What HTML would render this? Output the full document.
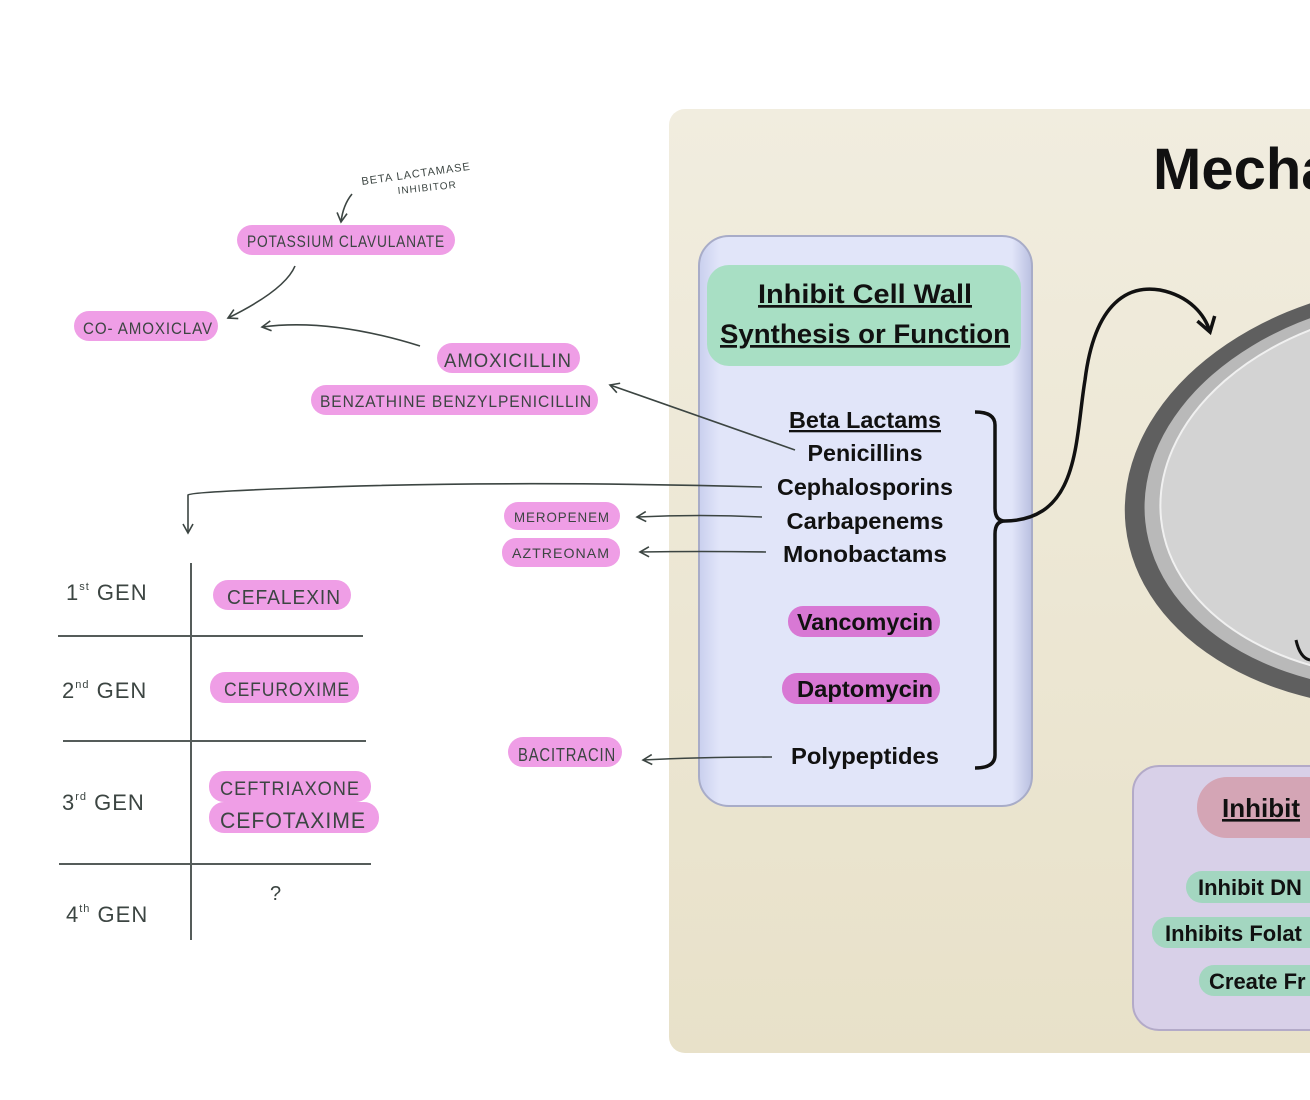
<!DOCTYPE html>
<html><head><meta charset="utf-8"><style>
html,body{margin:0;padding:0;background:#fff;width:1310px;height:1100px;overflow:hidden}
svg{display:block}
.h{font-family:"Liberation Sans",sans-serif;fill:#3c4542;font-size:17px;letter-spacing:1px}
.c{font-family:"Liberation Sans",sans-serif;font-weight:bold;fill:#111;text-anchor:middle}
</style></head><body>
<svg width="1310" height="1100" viewBox="0 0 1310 1100" xmlns="http://www.w3.org/2000/svg">
<defs>
<linearGradient id="bg" x1="0" y1="0" x2="0" y2="1"><stop offset="0" stop-color="#f1eddf"/><stop offset="1" stop-color="#e8e1c9"/></linearGradient>
<linearGradient id="blue" x1="0" y1="0" x2="1" y2="0"><stop offset="0" stop-color="#c9cfee"/><stop offset="0.06" stop-color="#e1e5f9"/><stop offset="0.94" stop-color="#e1e5f9"/><stop offset="1" stop-color="#b9bfe0"/></linearGradient>
<marker id="ah" markerWidth="12" markerHeight="12" refX="10" refY="6" orient="auto" markerUnits="userSpaceOnUse"><path d="M1,1 L10,6 L1,11" fill="none" stroke="#3c4542" stroke-width="1.6"/></marker>
<marker id="bh" markerWidth="22" markerHeight="22" refX="18" refY="11" orient="auto" markerUnits="userSpaceOnUse"><path d="M4,2 L18,11 L4,20" fill="none" stroke="#111" stroke-width="3.5"/></marker>
</defs>

<rect x="669" y="109" width="680" height="944" rx="16" fill="url(#bg)"/>
<text x="1153" y="189" font-family="Liberation Sans,sans-serif" font-weight="bold" font-size="58" fill="#111">Mecha</text>

<!-- cell ellipse -->
<g transform="rotate(-6 1420 495)">
<ellipse cx="1420" cy="495" rx="296" ry="212" fill="#5f5f5f"/>
<ellipse cx="1424" cy="493" rx="280" ry="197" fill="#b9b9b9"/>
<ellipse cx="1428" cy="492" rx="268" ry="186" fill="#d3d3d3" stroke="#f0f0f0" stroke-width="2"/>
</g>
<path d="M1296,640 Q1300,658 1310,660" fill="none" stroke="#111" stroke-width="3"/>

<rect x="699" y="236" width="333" height="570" rx="30" fill="url(#blue)" stroke="#a8acc8" stroke-width="2"/>
<rect x="707" y="265" width="314" height="101" rx="22" fill="#a8dfc4"/>
<text class="c" x="865" y="303" font-size="27" text-decoration="underline" textLength="214" lengthAdjust="spacingAndGlyphs">Inhibit Cell Wall</text>
<text class="c" x="865" y="343" font-size="27" text-decoration="underline" textLength="290" lengthAdjust="spacingAndGlyphs">Synthesis or Function</text>
<g font-size="23">
<text class="c" x="865" y="428" text-decoration="underline" textLength="152" lengthAdjust="spacingAndGlyphs">Beta Lactams</text>
<text class="c" x="865" y="461" textLength="115" lengthAdjust="spacingAndGlyphs">Penicillins</text>
<text class="c" x="865" y="495" textLength="176" lengthAdjust="spacingAndGlyphs">Cephalosporins</text>
<text class="c" x="865" y="529" textLength="157" lengthAdjust="spacingAndGlyphs">Carbapenems</text>
<text class="c" x="865" y="562" textLength="164" lengthAdjust="spacingAndGlyphs">Monobactams</text>
<rect x="788" y="606" width="152" height="31" rx="15" fill="#d878d4"/>
<text class="c" x="865" y="630" textLength="136" lengthAdjust="spacingAndGlyphs">Vancomycin</text>
<rect x="782" y="673" width="158" height="31" rx="15" fill="#d878d4"/>
<text class="c" x="865" y="697" textLength="136" lengthAdjust="spacingAndGlyphs">Daptomycin</text>
<text class="c" x="865" y="764" textLength="148" lengthAdjust="spacingAndGlyphs">Polypeptides</text>
</g>
<path d="M975,412 Q995,412 995,425 L995,508 Q995,521 1005,521 Q995,521 995,534 L995,755 Q995,768 975,768" fill="none" stroke="#111" stroke-width="3.5"/>
<path d="M1005,521 C1080,520 1075,440 1085,380 C1095,300 1130,285 1160,290 C1190,296 1205,315 1210,332" fill="none" stroke="#111" stroke-width="3.5" marker-end="url(#bh)"/>

<rect x="1133" y="766" width="220" height="264" rx="26" fill="#d8d0e8" stroke="#b3aac8" stroke-width="2"/>
<rect x="1197" y="777" width="160" height="61" rx="30" fill="#d4a5b5"/>
<text x="1222" y="817" font-family="Liberation Sans,sans-serif" font-weight="bold" font-size="26" fill="#111" text-decoration="underline">Inhibit</text>
<rect x="1186" y="871" width="160" height="32" rx="16" fill="#a3d6c0"/>
<text x="1198" y="895" font-family="Liberation Sans,sans-serif" font-weight="bold" font-size="22" fill="#111">Inhibit DN</text>
<rect x="1152" y="917" width="200" height="31" rx="15" fill="#a3d6c0"/>
<text x="1165" y="941" font-family="Liberation Sans,sans-serif" font-weight="bold" font-size="22" fill="#111">Inhibits Folat</text>
<rect x="1199" y="965" width="150" height="31" rx="15" fill="#a3d6c0"/>
<text x="1209" y="989" font-family="Liberation Sans,sans-serif" font-weight="bold" font-size="22" fill="#111">Create Fr</text>

<g fill="#ef9ee6">
<rect x="237" y="225" width="218" height="30" rx="15"/>
<rect x="74" y="311" width="144" height="30" rx="15"/>
<rect x="437" y="343" width="143" height="30" rx="15"/>
<rect x="311" y="385" width="287" height="30" rx="15"/>
<rect x="504" y="502" width="116" height="28" rx="14"/>
<rect x="502" y="538" width="118" height="29" rx="14"/>
<rect x="508" y="737" width="114" height="30" rx="15"/>
<rect x="213" y="580" width="138" height="30" rx="15"/>
<rect x="210" y="672" width="149" height="31" rx="15"/>
<rect x="209" y="771" width="162" height="31" rx="15"/>
<rect x="209" y="802" width="170" height="31" rx="15"/>
</g>
<g class="h">
<text x="247" y="247" textLength="198" lengthAdjust="spacingAndGlyphs">POTASSIUM  CLAVULANATE</text>
<text x="83" y="334" textLength="130" lengthAdjust="spacingAndGlyphs">CO- AMOXICLAV</text>
<text x="444" y="367" font-size="19" textLength="128" lengthAdjust="spacingAndGlyphs">AMOXICILLIN</text>
<text x="320" y="407" textLength="272" lengthAdjust="spacingAndGlyphs">BENZATHINE  BENZYLPENICILLIN</text>
<text x="514" y="522" font-size="14" textLength="96" lengthAdjust="spacingAndGlyphs">MEROPENEM</text>
<text x="512" y="558" font-size="14" textLength="98" lengthAdjust="spacingAndGlyphs">AZTREONAM</text>
<text x="518" y="761" font-size="18" textLength="98" lengthAdjust="spacingAndGlyphs">BACITRACIN</text>
<text x="227" y="604" font-size="20" textLength="114" lengthAdjust="spacingAndGlyphs">CEFALEXIN</text>
<text x="224" y="696" font-size="19" textLength="126" lengthAdjust="spacingAndGlyphs">CEFUROXIME</text>
<text x="220" y="795" font-size="19" textLength="140" lengthAdjust="spacingAndGlyphs">CEFTRIAXONE</text>
<text x="220" y="828" font-size="22" textLength="146" lengthAdjust="spacingAndGlyphs">CEFOTAXIME</text>
<text x="362" y="185" font-size="11" transform="rotate(-8 362 185)">BETA LACTAMASE</text>
<text x="398" y="194" font-size="10" transform="rotate(-6 398 194)">INHIBITOR</text>
<text x="66" y="600" font-size="22">1<tspan font-size="11" dy="-10">st</tspan><tspan dy="10"> GEN</tspan></text>
<text x="62" y="698" font-size="22">2<tspan font-size="11" dy="-10">nd</tspan><tspan dy="10"> GEN</tspan></text>
<text x="62" y="810" font-size="22">3<tspan font-size="11" dy="-10">rd</tspan><tspan dy="10"> GEN</tspan></text>
<text x="66" y="922" font-size="22">4<tspan font-size="11" dy="-10">th</tspan><tspan dy="10"> GEN</tspan></text>
<text x="270" y="900" font-size="20">?</text>
</g>
<g stroke="#555c5a" stroke-width="2" fill="none">
<path d="M191,563 L191,940"/>
<path d="M58,636 L363,636"/>
<path d="M63,741 L366,741"/>
<path d="M59,864 L371,864"/>
</g>
<g stroke="#3c4542" stroke-width="1.6" fill="none" marker-end="url(#ah)">
<path d="M352,194 Q343,205 341,222"/>
<path d="M295,266 Q285,290 228,318"/>
<path d="M420,346 Q330,318 262,327"/>
<path d="M795,450 L610,385"/>
<path d="M762,487 Q500,480 300,488 Q190,492 188,495 L188,533"/>
<path d="M762,517 Q700,514 637,517"/>
<path d="M766,552 Q700,551 640,552"/>
<path d="M772,757 Q700,757 643,760"/>
</g>
</svg>
</body></html>
